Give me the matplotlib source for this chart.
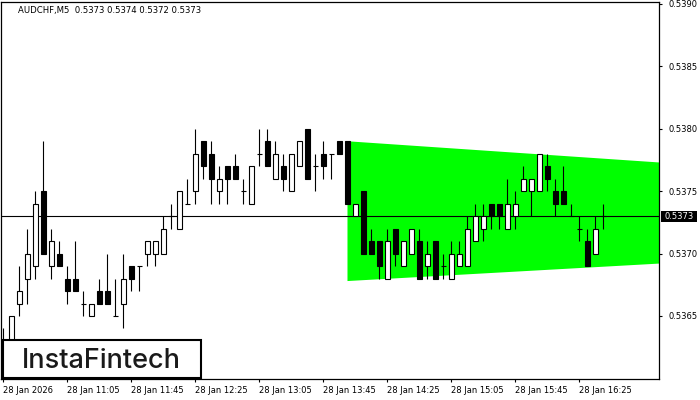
import matplotlib
matplotlib.use("Agg")
import matplotlib.pyplot as plt
import matplotlib.transforms as mtransforms
from matplotlib.patches import Rectangle, Polygon

# ---------------- data ----------------
opens = [0.5362, 0.5362, 0.5366, 0.5368, 0.5369, 0.5375, 0.5369, 0.5370, 0.5368, 0.5368,
         0.5366, 0.5365, 0.5367, 0.5367, 0.5365, 0.5366, 0.5369, 0.5369, 0.5370, 0.5370,
         0.5370, 0.5373, 0.5372, 0.5374, 0.5375, 0.5379, 0.5378, 0.5375, 0.5377, 0.5377,
         0.5375, 0.5374, 0.5378, 0.5379, 0.5376, 0.5377, 0.5375, 0.5377, 0.5380, 0.5377,
         0.5378, 0.5378, 0.5379, 0.5379, 0.5373, 0.5375, 0.5371, 0.5371, 0.5368, 0.5372,
         0.5369, 0.5370, 0.5371, 0.5369, 0.5371, 0.5369, 0.5368, 0.5369, 0.5369, 0.5371,
         0.5372, 0.5374, 0.5374, 0.5372, 0.5373, 0.5375, 0.5375, 0.5375, 0.5377, 0.5375,
         0.5375, 0.5373, 0.5372, 0.5371, 0.5370, 0.5373]
highs = [0.5364, 0.5365, 0.5369, 0.5372, 0.5375, 0.5379, 0.5372, 0.5371, 0.5369, 0.5371,
         0.5367, 0.5366, 0.5368, 0.5370, 0.5368, 0.5370, 0.5369, 0.5369, 0.5371, 0.5371,
         0.5373, 0.5374, 0.5375, 0.5376, 0.5380, 0.5379, 0.5379, 0.5377, 0.5377, 0.5378,
         0.5376, 0.5377, 0.5380, 0.5380, 0.5379, 0.5378, 0.5378, 0.5379, 0.5380, 0.5378,
         0.5379, 0.5378, 0.5379, 0.5379, 0.5374, 0.5375, 0.5372, 0.5371, 0.5372, 0.5372,
         0.5371, 0.5372, 0.5372, 0.5371, 0.5371, 0.5370, 0.5371, 0.5371, 0.5373, 0.5374,
         0.5374, 0.5374, 0.5374, 0.5376, 0.5375, 0.5377, 0.5376, 0.5378, 0.5378, 0.5376,
         0.5377, 0.5374, 0.5373, 0.5372, 0.5373, 0.5374]
lows = [0.5360, 0.5361, 0.5365, 0.5366, 0.5368, 0.5370, 0.5368, 0.5369, 0.5366, 0.5367,
        0.5365, 0.5365, 0.5366, 0.5366, 0.5365, 0.5364, 0.5367, 0.5367, 0.5369, 0.5369,
        0.5370, 0.5372, 0.5372, 0.5374, 0.5374, 0.5376, 0.5374, 0.5374, 0.5374, 0.5376,
        0.5374, 0.5374, 0.5377, 0.5377, 0.5376, 0.5375, 0.5375, 0.5377, 0.5376, 0.5375,
        0.5376, 0.5376, 0.5378, 0.5374, 0.5373, 0.5370, 0.5370, 0.5368, 0.5368, 0.5369,
        0.5369, 0.5370, 0.5368, 0.5368, 0.5368, 0.5368, 0.5368, 0.5369, 0.5369, 0.5371,
        0.5371, 0.5372, 0.5372, 0.5372, 0.5372, 0.5375, 0.5373, 0.5375, 0.5375, 0.5373,
        0.5374, 0.5373, 0.5371, 0.5369, 0.5370, 0.5372]
closes = [0.5361, 0.5365, 0.5367, 0.5370, 0.5374, 0.5370, 0.5371, 0.5369, 0.5367, 0.5367,
          0.5366, 0.5366, 0.5366, 0.5366, 0.5365, 0.5368, 0.5368, 0.5369, 0.5371, 0.5371,
          0.5372, 0.5373, 0.5375, 0.5374, 0.5378, 0.5377, 0.5376, 0.5376, 0.5376, 0.5376,
          0.5375, 0.5377, 0.5378, 0.5377, 0.5378, 0.5376, 0.5378, 0.5379, 0.5376, 0.5377,
          0.5377, 0.5378, 0.5378, 0.5374, 0.5374, 0.5370, 0.5370, 0.5369, 0.5371, 0.5370,
          0.5371, 0.5372, 0.5368, 0.5370, 0.5368, 0.5369, 0.5370, 0.5370, 0.5372, 0.5373,
          0.5373, 0.5373, 0.5373, 0.5374, 0.5374, 0.5376, 0.5376, 0.5378, 0.5376, 0.5374,
          0.5374, 0.5373, 0.5372, 0.5369, 0.5372, 0.5373]

tick_positions = [0, 8, 16, 24, 32, 40, 48, 56, 64, 72]
tick_labels = ["28 Jan 2026", "28 Jan 11:05", "28 Jan 11:45", "28 Jan 12:25",
               "28 Jan 13:05", "28 Jan 13:45", "28 Jan 14:25", "28 Jan 15:05",
               "28 Jan 15:45", "28 Jan 16:25"]
price_ticks = [0.5365, 0.5370, 0.5375, 0.5380, 0.5385, 0.5390]
price_labels = ["0.5365", "0.5370", "0.5375", "0.5380", "0.5385", "0.5390"]

pattern_x = [43, 82]
pattern_top = [0.53790, 0.53773]
pattern_bottom = [0.53678, 0.53692]

current_price = 0.5373
header = "AUDCHF,M5  0.5373 0.5374 0.5372 0.5373"
logo = "InstaFintech"

# ---------------- figure ----------------
W, H = 700, 400
fig = plt.figure(figsize=(7, 4), dpi=100)
fig.patch.set_facecolor("white")
ax = fig.add_axes([1 / W, 21 / H, 658 / W, 377 / H])
ax.set_facecolor("white")

ax.set_xlim(-0.3125, 81.94)
ax.set_ylim(0.535995, 0.539016)

# green pattern
poly = Polygon([(pattern_x[0], pattern_top[0]), (pattern_x[1], pattern_top[1]),
                (pattern_x[1], pattern_bottom[1]), (pattern_x[0], pattern_bottom[0])],
               closed=True, facecolor="#00FF00", edgecolor="none", zorder=1)
ax.add_patch(poly)

# current price line
ax.axhline(current_price, color="black", lw=0.8, zorder=2)

# candles
n = len(opens)
xs = list(range(n))
ax.vlines(xs, lows, highs, color="black", lw=0.8, zorder=3)
bottoms = [min(o, c) for o, c in zip(opens, closes)]
heights = [abs(c - o) for o, c in zip(opens, closes)]
faces = ["white" if c > o else "black" for o, c in zip(opens, closes)]
ax.bar(xs, heights, width=0.52, bottom=bottoms, color=faces, edgecolor="black",
       linewidth=0.8, zorder=4)

# axes styling
for s in ax.spines.values():
    s.set_color("black")
    s.set_linewidth(0.9)
ax.yaxis.tick_right()
ax.set_yticks(price_ticks)
ax.set_yticklabels(price_labels)
ax.set_xticks(tick_positions)
ax.set_xticklabels(tick_labels, ha="left")
ax.tick_params(axis="y", direction="out", length=2.5, width=0.8, pad=4,
               labelsize=6, colors="black")
ax.tick_params(axis="x", direction="out", length=2.5, width=0.8, pad=2.5,
               labelsize=6, colors="black")
for lbl in ax.get_xticklabels():
    lbl.set_horizontalalignment("left")

# current price label
trans = mtransforms.blended_transform_factory(ax.transAxes, ax.transData)
px = 1 / 658  # axes fraction per pixel
pip_px = 12.48
box_h = 11 / pip_px * 0.0001
ax.add_patch(Rectangle((1 + 1.7 * px, current_price - box_h / 2), 36 * px, box_h,
                       transform=trans, facecolor="black", edgecolor="none",
                       clip_on=False, zorder=6))
ax.text(1 + 19.7 * px, current_price, "0.5373", transform=trans, color="white",
        fontsize=6, ha="center", va="center", clip_on=False, zorder=7)

# header
fig.text(18 / W, 1 - 13 / H, header, fontsize=6.1, color="black",
         ha="left", va="baseline")

# logo box
fig.patches.append(Rectangle((2.7 / W, 1 - 378.3 / H), 198.6 / W, 38.3 / H,
                             transform=fig.transFigure, facecolor="white",
                             edgecolor="black", linewidth=1.5, zorder=10))
fig.text(101.7 / W, 1 - 368.3 / H, logo, fontsize=19.5, family="Inter",
         fontweight="medium", color="#1a1a1a", ha="center", va="baseline", zorder=11)

fig.savefig("out.png", dpi=100)
